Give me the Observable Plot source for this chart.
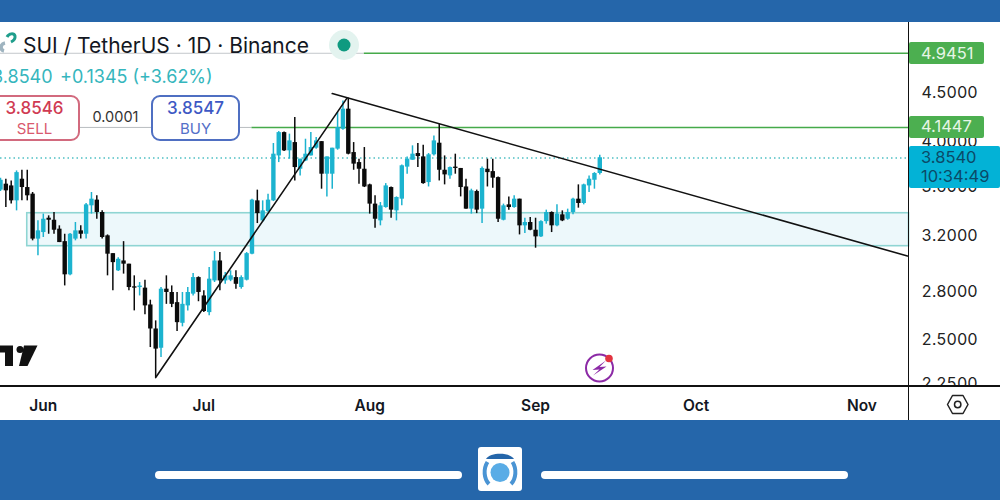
<!DOCTYPE html>
<html><head><meta charset="utf-8">
<script src="https://cdn.jsdelivr.net/npm/d3@7"></script>
<script src="https://cdn.jsdelivr.net/npm/@observablehq/plot@0.6"></script>
<style>
html,body{margin:0;padding:0;overflow:hidden;background:#2566aa}
#page{position:relative;width:1000px;height:500px;overflow:hidden;background:#2566aa;font-family:Inter,"Noto Sans",sans-serif;color:#131722}
#chart{position:absolute;left:0;top:22px;width:1000px;height:398px;background:#fff}
#chart svg{display:block}
.ab{position:absolute;white-space:nowrap;line-height:1}
.box{position:absolute;top:95px;height:45.500px;box-sizing:border-box;border-radius:9px;background:#fff;border:2px solid}
.tag{position:absolute;box-sizing:border-box;border-radius:2px;padding-left:12px;font-size:16.500px}
</style></head><body>
<div id="page">
<div id="chart"></div>
<div id="overlay"></div>
</div>
<script>
const firstDay = "2025-05-24";
const highs = [3.673,3.664,3.649,3.737,3.743,3.743,3.550,3.318,3.372,3.358,3.385,3.279,3.214,3.219,3.305,3.279,3.458,3.550,3.522,3.398,3.209,3.069,3.040,3.158,2.993,2.911,2.865,2.881,2.747,2.615,2.831,2.911,2.842,2.798,2.798,2.831,2.927,2.904,2.809,2.969,3.084,3.077,2.934,2.946,2.946,2.911,3.077,3.494,3.570,3.480,3.536,3.989,4.104,4.101,4.079,4.243,3.843,4.030,4.094,4.046,4.007,3.864,3.945,4.294,4.415,4.444,3.998,3.843,3.951,3.621,3.522,3.466,3.626,3.597,3.513,3.790,3.864,3.967,3.989,3.973,3.895,4.062,4.177,3.873,3.771,3.889,3.759,3.664,3.578,3.570,3.771,3.843,3.843,3.684,3.453,3.513,3.522,3.494,3.339,3.345,3.339,3.318,3.404,3.390,3.447,3.398,3.412,3.502,3.615,3.621,3.693,3.722,3.880];
const lows = [3.558,3.425,3.453,3.398,3.480,3.480,3.164,3.053,3.189,3.214,3.214,3.151,2.842,2.911,3.164,3.177,3.177,3.372,3.331,3.177,2.911,2.809,2.941,2.923,2.809,2.678,2.775,2.653,2.454,2.285,2.396,2.720,2.699,2.549,2.578,2.678,2.775,2.737,2.667,2.647,2.865,2.809,2.853,2.871,2.820,2.820,2.876,3.060,3.297,3.305,3.385,3.474,3.812,3.913,3.843,3.649,3.693,3.821,3.873,3.936,3.578,3.513,3.578,3.926,4.118,3.883,3.743,3.621,3.592,3.372,3.261,3.279,3.420,3.339,3.318,3.439,3.708,3.833,3.767,3.621,3.597,3.873,3.649,3.615,3.664,3.708,3.513,3.412,3.372,3.376,3.297,3.597,3.586,3.305,3.318,3.404,3.420,3.209,3.219,3.240,3.109,3.189,3.292,3.227,3.271,3.312,3.323,3.366,3.420,3.447,3.550,3.578,3.702];
const opens = [3.570,3.621,3.606,3.480,3.664,3.592,3.536,3.177,3.227,3.339,3.323,3.253,3.158,2.918,3.177,3.240,3.214,3.439,3.486,3.385,3.202,3.069,2.946,3.016,2.993,2.836,2.831,2.827,2.716,2.565,2.450,2.820,2.798,2.731,2.600,2.710,2.787,2.899,2.775,2.667,2.876,3.016,2.876,2.881,2.899,2.831,2.881,3.065,3.480,3.318,3.392,3.480,3.873,4.094,3.920,3.998,3.752,3.827,3.873,3.945,4.007,3.708,3.708,3.936,4.127,4.329,3.904,3.812,3.752,3.615,3.453,3.318,3.425,3.592,3.398,3.494,3.771,3.833,3.895,3.864,3.635,3.883,3.992,3.743,3.693,3.771,3.759,3.597,3.412,3.558,3.412,3.752,3.731,3.678,3.323,3.447,3.425,3.494,3.279,3.305,3.245,3.194,3.312,3.385,3.279,3.366,3.331,3.385,3.494,3.458,3.606,3.655,3.714];
const closes = [3.655,3.564,3.480,3.722,3.592,3.522,3.177,3.240,3.331,3.323,3.245,3.151,2.918,3.214,3.240,3.214,3.447,3.494,3.385,3.189,3.065,3.004,3.028,2.993,2.831,2.827,2.841,2.710,2.565,2.445,2.820,2.798,2.720,2.604,2.720,2.798,2.899,2.798,2.674,2.888,3.016,2.876,2.911,2.911,2.853,2.899,3.069,3.486,3.376,3.398,3.486,3.889,4.094,3.920,4.014,3.767,3.843,3.889,3.951,4.014,3.708,3.864,3.945,4.144,4.329,3.889,3.798,3.752,3.597,3.453,3.331,3.439,3.606,3.404,3.508,3.783,3.843,3.889,3.867,3.626,3.883,4.014,3.743,3.702,3.767,3.759,3.592,3.412,3.564,3.404,3.759,3.722,3.673,3.331,3.439,3.425,3.494,3.279,3.305,3.245,3.194,3.312,3.385,3.279,3.372,3.318,3.385,3.494,3.458,3.615,3.664,3.714,3.856];
const monthTicks = ["2025-06-01","2025-07-01","2025-08-01","2025-09-01","2025-10-01","2025-11-01"];
const priceTicks = [2.25,2.5,2.8,3.2,3.6,4.0,4.5];
const targetHigh = 4.9451, targetLow = 4.1447, lastPrice = 3.854;
const zoneTop = 3.379, zoneBottom = 3.124, zoneStart = "2025-05-29";
const upTrendDates = ["2025-06-22","2025-07-27T18:00Z"], upTrendPrices = [2.285,4.444];
const downTrendDates = ["2025-07-25","2025-11-09T12:00Z"], downTrendPrices = [4.4925,3.052];
const upColor = "#1cb3cf", downColor = "#0b0b0b", green = "#46aa4a";

const xMin = new Date("2025-05-24"), xMax = new Date("2025-11-09T19:00Z");
const candles = d3.range(opens.length).map(i => ({
  date: d3.utcDay.offset(new Date(firstDay), i),
  open: opens[i], high: highs[i], low: lows[i], close: closes[i],
  up: closes[i] >= opens[i]
}));
const pts = (ds, ps) => ds.map((d, i) => ({date: new Date(d), price: ps[i]}));
const candleFill = d => d.up ? upColor : downColor;

const plot = Plot.plot({
  width: 1000, height: 398,
  marginTop: 0, marginBottom: 35, marginLeft: 0, marginRight: 91.5,
  style: {background: "#fff", fontFamily: "Inter, sans-serif"},
  x: {type: "utc", domain: [xMin, xMax]},
  y: {type: "log", domain: [2.2421, 5.321]},
  marks: [
    Plot.rect([{}], {x1: new Date(zoneStart), x2: xMax, y1: zoneBottom, y2: zoneTop, fill: "#edf8fb", stroke: "#8fd5d3", strokeWidth: 1.6}),
    Plot.ruleY([lastPrice], {stroke: "#4fc0c4", strokeWidth: 1.6, strokeDasharray: "1.5,3"}),
    Plot.ruleY([targetHigh], {x1: xMin, x2: new Date("2025-07-31"), stroke: "#c4c8cc", strokeWidth: 1}),
    Plot.ruleY([targetHigh], {x1: new Date("2025-07-31"), x2: xMax, stroke: green, strokeWidth: 1.5}),
    Plot.ruleY([targetLow], {x1: new Date("2025-06-07"), x2: new Date("2025-07-10"), stroke: "#b8bcc0", strokeWidth: 1}),
    Plot.ruleY([targetLow], {x1: new Date("2025-07-10"), x2: xMax, stroke: green, strokeWidth: 1.5}),
    Plot.ruleX(candles, {x: "date", y1: "low", y2: "high", stroke: candleFill, strokeWidth: 1.5}),
    Plot.ruleX(candles, {x: "date", y1: "open", y2: "close", stroke: candleFill, strokeWidth: 4.4}),
    Plot.line(pts(upTrendDates, upTrendPrices), {x: "date", y: "price", stroke: "#111", strokeWidth: 1.6}),
    Plot.line(pts(downTrendDates, downTrendPrices), {x: "date", y: "price", stroke: "#111", strokeWidth: 1.6}),
    Plot.axisX({ticks: monthTicks.map(d => new Date(d)), tickFormat: d3.utcFormat("%b"), tickSize: 0, tickPadding: 14, fontSize: 15.5, fontWeight: 600, fill: "#131722", label: null}),
    Plot.axisY({anchor: "right", ticks: priceTicks, tickFormat: d => d.toFixed(4), tickSize: 0, tickPadding: 12.5, fontSize: 16, fill: "#222", label: null})
  ]
});
document.getElementById("chart").appendChild(plot);

const yPage = v => plot.scale("y").apply(v) + 22;
const tag = (v, top, h, w, bg, color, lines) =>
  `<div class="tag" style="left:909px;top:${yPage(v) + top}px;height:${h}px;width:${w}px;background:${bg};color:${color}">` +
  lines.map((t, i) => `<div style="position:absolute;left:12px;top:${2.5 + i * 19}px;line-height:17px">${t}</div>`).join("") + `</div>`;

document.getElementById("overlay").innerHTML = `
<!-- axis frame -->
<div class="ab" style="left:909px;top:386px;width:91px;height:34px;background:#fff"></div>
<div class="ab" style="left:0;top:385px;width:1000px;height:1.5px;background:#111"></div>
<div class="ab" style="left:907.7px;top:22px;width:1.5px;height:398px;background:#111"></div>
<div class="ab" style="left:0;top:420px;width:1000px;height:80px;background:#2566aa"></div>
<!-- price tags -->
${tag(targetHigh, -10.5, 21.5, 75, "#4caf50", "#e6f5e6", [targetHigh.toFixed(4)])}
${tag(targetLow, -11, 22.5, 75, "#4caf50", "#e6f5e6", [targetLow.toFixed(4)])}
${tag(lastPrice, -11, 42, 90.5, "#03b2d6", "#0b4a68", [lastPrice.toFixed(4), "10:34:49"])}
<!-- symbol header -->
<svg class="ab" style="left:0;top:30px" width="22" height="26" viewBox="0 0 22 26">
 <path d="M7 7 C9 3,14 3,15 6 C15.500 9,13 11,11 12" fill="none" stroke="#1f9e8c" stroke-width="3"/>
 <path d="M5 13 C0 14,0 20,4 21" fill="none" stroke="#9fb4c0" stroke-width="3.500"/>
</svg>
<div class="ab" style="left:23px;top:35px;font-size:21px">SUI / TetherUS · 1D · Binance</div>
<svg class="ab" style="left:328px;top:29px" width="32" height="32"><circle cx="16" cy="16" r="15" fill="#e3f3ef"/><circle cx="16" cy="16" r="6.500" fill="#0f9a80"/></svg>
<div class="ab" style="left:-8px;top:68px;font-size:18px;color:#35b6bd">3.8540</div>
<div class="ab" style="left:60px;top:68px;font-size:18px;color:#35b6bd">+0.1345 (+3.62%)</div>
<!-- sell / buy -->
<div class="box" style="left:-11px;width:91px;border-color:#d26a7e"></div>
<div class="ab" style="left:-11px;width:91px;top:100px;text-align:center;font-size:17px;font-weight:500;color:#d03a52">3.8546</div>
<div class="ab" style="left:-11px;width:91px;top:121px;text-align:center;font-size:15px;color:#d9596e">SELL</div>
<div class="ab" style="left:80px;width:71px;top:110px;text-align:center;font-size:14.500px;color:#333">0.0001</div>
<div class="box" style="left:151px;width:89px;border-color:#4f6fc2"></div>
<div class="ab" style="left:151px;width:89px;top:100px;text-align:center;font-size:17px;font-weight:500;color:#3d58c4">3.8547</div>
<div class="ab" style="left:151px;width:89px;top:121px;text-align:center;font-size:15px;color:#5470c8">BUY</div>
<!-- watermark logo -->
<svg class="ab" style="left:0;top:344px" width="40" height="24" viewBox="0 0 40 24">
 <path d="M-2 1.500H13V22H5V8.500H-2Z" fill="#111"/>
 <circle cx="20" cy="5.500" r="3.500" fill="#111"/>
 <path d="M24 1.500H37.500L27.500 22H19Z" fill="#111"/>
</svg>
<!-- lightning badge -->
<svg class="ab" style="left:582px;top:350px" width="36" height="36" viewBox="0 0 36 36">
 <circle cx="17.500" cy="18" r="13.500" fill="none" stroke="#8c2aa6" stroke-width="2"/>
 <path d="M24 10.500L10.500 20L17.500 19.500L11 25.500L24.500 16.500L17.500 17Z" fill="#8c2aa6"/>
 <circle cx="27" cy="8.500" r="3.800" fill="#e23340"/>
</svg>
<!-- settings hexagon -->
<svg class="ab" style="left:945px;top:392px" width="26" height="26" viewBox="0 0 26 26">
 <path d="M2.500 12.500L7.500 3.500H18L23 12.500L18 21.500H7.500Z" fill="none" stroke="#222" stroke-width="1.500" stroke-linejoin="round"/>
 <circle cx="12.700" cy="12.500" r="3.200" fill="none" stroke="#222" stroke-width="1.500"/>
</svg>
<!-- footer -->
<div class="ab" style="left:155px;top:471px;width:307px;height:8px;border-radius:4px;background:#fff"></div>
<div class="ab" style="left:541px;top:471px;width:307px;height:8px;border-radius:4px;background:#fff"></div>
<svg class="ab" style="left:478px;top:447px" width="44" height="44" viewBox="0 0 44 44">
 <rect width="44" height="44" rx="3" fill="#fff"/>
 <circle cx="22" cy="25.500" r="9.500" fill="#59ace6"/>
 <path d="M8 12 C12 5,32 5,36 12 Z" fill="#2566aa"/>
 <path d="M9.500 15 C5 22,6 32,11 37" fill="none" stroke="#4a94d4" stroke-width="4"/>
 <path d="M34.500 15 C39 22,38 32,33 37" fill="none" stroke="#4a94d4" stroke-width="4"/>
</svg>`;
</script>
</body></html>
